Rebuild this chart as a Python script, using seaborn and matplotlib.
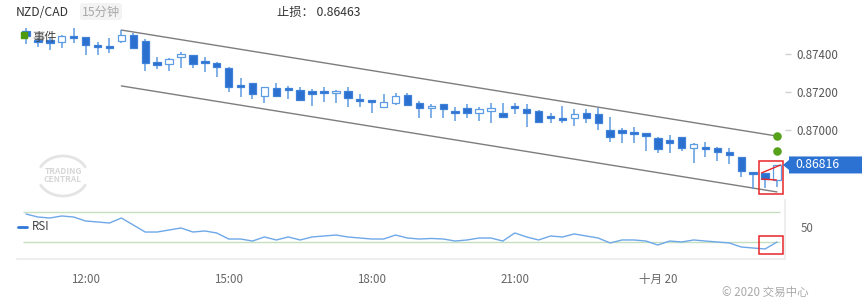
import matplotlib
matplotlib.use("Agg")
import matplotlib.pyplot as plt
import numpy as np
import pandas as pd
import seaborn as sns
from matplotlib.patches import Rectangle, FancyBboxPatch, Polygon, Arc

# ---------------- data ----------------
symbol = "NZD/CAD"
interval = "15分钟"
stop_loss = "0.86463"

opens = [0.87521, 0.87474, 0.87474, 0.87463, 0.87495, 0.87489, 0.87447, 0.87442, 0.87468, 0.87500,
         0.87468, 0.87358, 0.87347, 0.87384, 0.87395, 0.87358, 0.87353, 0.87326, 0.87237, 0.87247,
         0.87179, 0.87221, 0.87221, 0.87211, 0.87205, 0.87200, 0.87195, 0.87205, 0.87163, 0.87158,
         0.87121, 0.87142, 0.87184, 0.87142, 0.87116, 0.87137, 0.87095, 0.87116, 0.87089, 0.87100,
         0.87089, 0.87121, 0.87111, 0.87100, 0.87068, 0.87063, 0.87063, 0.87089, 0.87084, 0.87000,
         0.87000, 0.86984, 0.86984, 0.86958, 0.86947, 0.86963, 0.86905, 0.86905, 0.86905, 0.86884,
         0.86858, 0.86774, 0.86774, 0.86737]
highs = [0.87537, 0.87484, 0.87484, 0.87500, 0.87537, 0.87489, 0.87463, 0.87484, 0.87526, 0.87511,
         0.87479, 0.87384, 0.87379, 0.87411, 0.87395, 0.87384, 0.87358, 0.87332, 0.87274, 0.87247,
         0.87226, 0.87247, 0.87232, 0.87226, 0.87216, 0.87226, 0.87211, 0.87226, 0.87189, 0.87158,
         0.87189, 0.87195, 0.87195, 0.87153, 0.87137, 0.87137, 0.87121, 0.87137, 0.87121, 0.87142,
         0.87142, 0.87142, 0.87137, 0.87105, 0.87089, 0.87126, 0.87111, 0.87111, 0.87116, 0.87068,
         0.87011, 0.87016, 0.86984, 0.86963, 0.86974, 0.86963, 0.86932, 0.86937, 0.86911, 0.86905,
         0.86858, 0.86774, 0.86774, 0.86818]
lows = [0.87453, 0.87437, 0.87421, 0.87432, 0.87458, 0.87395, 0.87395, 0.87405, 0.87458, 0.87432,
        0.87311, 0.87321, 0.87311, 0.87326, 0.87326, 0.87305, 0.87279, 0.87200, 0.87174, 0.87163,
        0.87142, 0.87179, 0.87163, 0.87158, 0.87126, 0.87147, 0.87142, 0.87121, 0.87121, 0.87089,
        0.87121, 0.87132, 0.87132, 0.87063, 0.87063, 0.87063, 0.87047, 0.87063, 0.87047, 0.87037,
        0.87068, 0.87084, 0.87016, 0.87037, 0.87037, 0.87037, 0.87021, 0.87037, 0.87000, 0.86937,
        0.86932, 0.86932, 0.86889, 0.86879, 0.86879, 0.86889, 0.86826, 0.86858, 0.86837, 0.86821,
        0.86753, 0.86689, 0.86695, 0.86700]
closes = [0.87495, 0.87463, 0.87458, 0.87495, 0.87484, 0.87447, 0.87437, 0.87432, 0.87500, 0.87432,
          0.87353, 0.87342, 0.87374, 0.87400, 0.87347, 0.87353, 0.87332, 0.87226, 0.87226, 0.87189,
          0.87226, 0.87179, 0.87211, 0.87158, 0.87189, 0.87195, 0.87205, 0.87168, 0.87153, 0.87147,
          0.87147, 0.87179, 0.87132, 0.87116, 0.87126, 0.87111, 0.87089, 0.87089, 0.87111, 0.87116,
          0.87068, 0.87116, 0.87089, 0.87042, 0.87063, 0.87053, 0.87084, 0.87063, 0.87037, 0.86963,
          0.86984, 0.86979, 0.86968, 0.86900, 0.86932, 0.86905, 0.86926, 0.86900, 0.86884, 0.86868,
          0.86784, 0.86768, 0.86742, 0.86816]
rsi = [67.3, 63.3, 62.0, 64.7, 63.3, 58.0, 56.7, 55.3, 62.0, 52.7,
       43.3, 43.3, 46.0, 48.7, 43.3, 44.7, 42.0, 34.0, 34.0, 31.3,
       36.7, 32.7, 36.7, 32.7, 36.7, 38.0, 39.3, 36.7, 35.3, 34.0,
       34.0, 39.3, 35.3, 34.0, 34.7, 34.0, 31.3, 32.7, 35.3, 35.3,
       31.3, 42.0, 36.7, 32.7, 38.0, 36.7, 40.7, 38.0, 35.3, 28.7,
       32.7, 32.7, 31.3, 26.0, 31.3, 30.0, 32.7, 31.3, 30.0, 28.7,
       23.3, 22.0, 20.7, 30.0]

channel_idx = [8, 63]
channel_upper = [0.87526, 0.86968]
channel_lower = [0.87232, 0.86674]
target_prices = [0.86968, 0.86889]

price_ticks = [0.87000, 0.87200, 0.87400]
time_tick_idx = [5, 17, 29, 41, 53]
time_tick_labels = ["12:00", "15:00", "18:00", "21:00", "十月 20"]
rsi_levels = [70, 30]

times = pd.date_range("2020-10-19 10:45", periods=len(closes), freq="15min")
df = pd.DataFrame({"t": times, "open": opens, "high": highs, "low": lows,
                   "close": closes, "rsi": rsi})
df["idx"] = np.arange(len(df))

# ---------------- style ----------------
sns.set_theme(style="white")
plt.rcParams["font.family"] = ["Noto Sans CJK SC", "DejaVu Sans"]

W, H = 866, 308
fig = plt.figure(figsize=(W / 100, H / 100), dpi=100)
fig.patch.set_facecolor("white")


def px_axes(z):
    a = fig.add_axes([0, 0, 1, 1], zorder=z)
    a.set_xlim(0, W)
    a.set_ylim(H, 0)
    a.axis("off")
    a.patch.set_alpha(0)
    return a


bg = px_axes(0)
ax = fig.add_axes([17 / W, 1 - 200 / H, 768 / W, 178 / H], zorder=1)
rx = fig.add_axes([17 / W, 1 - 259 / H, 768 / W, 59 / H], zorder=1)
fg = px_axes(5)
for a in (ax, rx):
    a.patch.set_visible(False)

XL = (-0.755, 63.67)

# ---------------- candles ----------------
fill_c = "#2b70cf"
fill_edge = "#3f80d8"
wick_c = "#5d9be2"
ax.vlines(df["idx"], df["low"], df["high"], color=wick_c, lw=1.1, zorder=2)
bull = df["close"] >= df["open"]
bottoms = np.minimum(df["open"], df["close"])
heights = np.maximum(np.abs(df["close"] - df["open"]), 0.00009)
ax.bar(df["idx"], heights, bottom=bottoms, width=0.62,
       color=np.where(bull, "white", fill_c),
       edgecolor=np.where(bull, wick_c, fill_edge), lw=0.9, zorder=3)

ax.plot(channel_idx, channel_upper, color="#7d7d7d", lw=1.0, zorder=1)
ax.plot(channel_idx, channel_lower, color="#7d7d7d", lw=1.0, zorder=1)
ax.scatter([channel_idx[1]] * len(target_prices), target_prices, s=38,
           color="#56a31b", zorder=6, linewidths=0)

# red pattern box around last two candles
last2 = df.iloc[-2:]
bx0, bx1 = last2["idx"].iloc[0] - 0.55, last2["idx"].iloc[1] + 0.5
by0, by1 = last2["low"].min() - 0.00030, last2["high"].max() + 0.00018
ax.add_patch(Rectangle((bx0, by0), bx1 - bx0, by1 - by0, fill=False,
                       ec="#e8262a", lw=1.1, zorder=7))
i0, i1 = last2["idx"].iloc[0], last2["idx"].iloc[1]
ax.plot([i0 - 0.3, i1 + 0.3], [last2["open"].iloc[0], last2["close"].iloc[1]],
        color="#e8262a", lw=1.0, zorder=7)
ax.plot([i0 - 0.3, i1 - 0.05], [last2["close"].iloc[0], last2["open"].iloc[1]],
        color="#e8262a", lw=1.0, zorder=7)

ax.set_xlim(*XL)
ax.set_ylim(0.866316, 0.875684)
for s in ax.spines.values():
    s.set_visible(False)
ax.set_xticks([])
ax.yaxis.tick_right()
ax.set_yticks(price_ticks)
ax.set_yticklabels([f"{p:.5f}" for p in price_ticks])
ax.tick_params(axis="y", length=4, width=1, color="#d0d0d0", labelcolor="#555555",
               labelsize=8.3, pad=4)
ax.grid(False)

# ---------------- RSI ----------------
sns.lineplot(data=df, x="idx", y="rsi", ax=rx, color="#6ea8e8", lw=1.0, legend=False)
rx.hlines(rsi_levels, -0.25, 63.26, color="#c6dfc1", lw=1.0, zorder=0)
# red box around last two RSI points
r2 = df["rsi"].iloc[-2:]
rx.add_patch(Rectangle((bx0, r2.min() - 6.5), bx1 - bx0, r2.max() - r2.min() + 14.5,
                       fill=False, ec="#e8262a", lw=1.1, zorder=7))
rx.set_xlim(*XL)
rx.set_ylim(7.33, 86)
rx.set_xlabel("")
rx.set_ylabel("")
for k, s in rx.spines.items():
    s.set_visible(k in ("bottom", "right"))
    s.set_color("#ececec")
rx.yaxis.tick_right()
rx.set_yticks([50])
rx.set_yticklabels(["50"])
rx.tick_params(axis="y", length=0, labelcolor="#666666", labelsize=8.3, pad=11)
rx.set_xticks(time_tick_idx)
rx.set_xticklabels(time_tick_labels)
rx.tick_params(axis="x", length=3, color="#ececec", labelcolor="#666666",
               labelsize=8.3, pad=7)
rx.grid(False)

# ---------------- watermark ----------------
bg.add_patch(Arc((63, 176), 50, 40, theta1=20, theta2=160, color="#e4e4e4", lw=2))
bg.add_patch(Arc((63, 176), 50, 40, theta1=200, theta2=340, color="#e4e4e4", lw=2))
bg.text(63, 171, "TRADING", ha="center", va="center", fontsize=6, color="#d6d6d6",
        fontweight="bold")
bg.text(63, 180, "CENTRAL", ha="center", va="center", fontsize=6, color="#d6d6d6",
        fontweight="bold")

# ---------------- header / legends ----------------
fg.text(16, 12, symbol, ha="left", va="center", fontsize=8.8, color="#333333")
fg.add_patch(FancyBboxPatch((80, 3), 42, 17, boxstyle="round,pad=0,rounding_size=3",
                            fc="#f3f3f3", ec="none"))
fg.text(101, 12, interval, ha="center", va="center", fontsize=8.8, color="#a8a8a8")
fg.text(277, 12, f"止损： {stop_loss}", ha="left", va="center", fontsize=8.8,
        color="#333333")

fg.add_patch(Rectangle((21, 32), 6, 6, color="#4e9a0e"))
fg.text(32, 37, "事件", ha="left", va="center", fontsize=8.8, color="#444444")

fg.plot([18, 27], [227, 227], color="#2f78d8", lw=2)
fg.text(32, 227, "RSI", ha="left", va="center", fontsize=8.3, color="#444444")

fg.text(722, 292, "© 2020 交易中心", ha="left", va="center", fontsize=8.3, color="#aaaaaa")

# price tag for the last close
fig.canvas.draw()
yd = ax.transData.transform((0, closes[-1]))[1]
yp = H - yd
tag = Polygon([(783, yp), (789, yp - 5), (789, yp - 8.5), (862, yp - 8.5),
               (862, yp + 8.5), (789, yp + 8.5), (789, yp + 5)],
              closed=True, fc="#2c72d2", ec="none")
fg.add_patch(tag)
fg.text(795, yp, f"{closes[-1]:.5f}", ha="left", va="center", fontsize=8.8,
        color="white")

fig.savefig("out.png", dpi=100, facecolor="white")
